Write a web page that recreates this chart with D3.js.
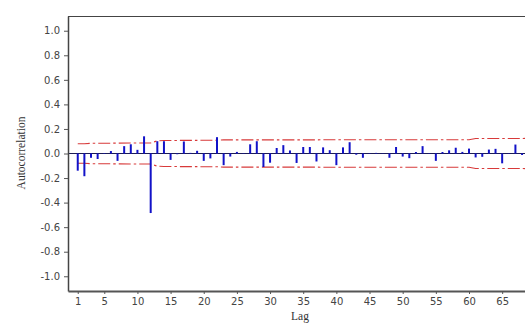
<!DOCTYPE html>
<html>
<head>
<meta charset="utf-8">
<script src="https://cdn.jsdelivr.net/npm/d3@7"></script>
<style>
  body { margin: 0; background: #fff; }
  .tick text { font-family: "DejaVu Sans", Verdana, sans-serif; font-size: 10px; fill: #444; }
  .axis-title { font-family: "Liberation Serif", "Times New Roman", serif; font-size: 11.5px; fill: #333; }
</style>
</head>
<body>
<div id="acf-chart"></div>
<script>
// lags 1..68 and the autocorrelation
const lags = d3.range(1, 69);
const acf = [
  -0.14, -0.185, -0.035, -0.045, 0.004, 0.02, -0.06, 0.06, 0.075, 0.03,
  0.14, -0.485, 0.10, 0.10, -0.052, -0.006, 0.098, 0.005, 0.022, -0.06,
  -0.04, 0.133, -0.095, -0.025, 0.013, 0.003, 0.075, 0.10, -0.11, -0.075,
  0.045, 0.068, 0.025, -0.077, 0.053, 0.053, -0.065, 0.05, 0.027, -0.095,
  0.05, 0.092, -0.01, -0.035, 0.003, 0.005, 0.002, -0.035, 0.053, -0.025,
  -0.038, 0.012, 0.06, 0.003, -0.06, 0.012, 0.026, 0.047, 0.013, 0.04,
  -0.032, -0.027, 0.032, 0.038, -0.08, 0.003, 0.073, -0.012
];

// confidence band knots (lag, half-width)
const bandLags = [1, 2, 3, 12, 13, 14, 22, 23, 60, 61, 70];
const bandValues = [0.079, 0.080, 0.083, 0.086, 0.103, 0.106, 0.108, 0.111, 0.112, 0.122, 0.123];

const xTicks = [1, 5, 10, 15, 20, 25, 30, 35, 40, 45, 50, 55, 60, 65];
const yTicks = [1.0, 0.8, 0.6, 0.4, 0.2, 0.0, -0.2, -0.4, -0.6, -0.8, -1.0];
const yTickLabels = ['1.0', '0.8', '0.6', '0.4', '0.2', '0.0', '-0.2', '-0.4', '-0.6', '-0.8', '-1.0'];

const width = 525;
const height = 323;
const plot = { left: 68, right: 532, top: 16, bottom: 291 };

const svg = d3
  .select('#acf-chart')
  .append('svg')
  .attr('width', width)
  .attr('height', height);

const xScale = d3.scaleLinear().domain([-0.47, 69.5]).range([plot.left, plot.right]);
const yScale = d3.scaleLinear().domain([-1.12, 1.12]).range([plot.bottom, plot.top]);

// top frame
svg.append('line')
  .attr('x1', plot.left).attr('x2', plot.right)
  .attr('y1', plot.top + 0.5).attr('y2', plot.top + 0.5)
  .attr('stroke', '#444').attr('stroke-width', 1);

// confidence bands
const bandPoints = bandLags.map((l, i) => ({ lag: l, v: bandValues[i] }));
const bandLine = (sign) => d3.line()
  .x((d) => xScale(d.lag))
  .y((d) => yScale(sign * d.v));

[1, -1].forEach((sign) => {
  svg.append('path')
    .datum(bandPoints)
    .attr('fill', 'none')
    .attr('stroke', '#d83a3a')
    .attr('stroke-width', 1.1)
    .attr('stroke-dasharray', '12,3,2.5,3')
    .attr('d', bandLine(sign));
});

// zero line
svg.append('line')
  .attr('x1', plot.left).attr('x2', plot.right)
  .attr('y1', yScale(0)).attr('y2', yScale(0))
  .attr('stroke', '#1c1c55').attr('stroke-width', 1);

// acf spikes
svg.selectAll('.spike')
  .data(lags)
  .enter()
  .append('line')
  .attr('class', 'spike')
  .attr('x1', (d) => xScale(d))
  .attr('x2', (d) => xScale(d))
  .attr('y1', yScale(0))
  .attr('y2', (d, i) => yScale(acf[i]))
  .attr('stroke', '#1212c8')
  .attr('stroke-width', 2);

// axes
const yAxis = svg.append('g')
  .attr('transform', `translate(${plot.left},0)`)
  .call(d3.axisLeft(yScale)
    .tickValues(yTicks)
    .tickFormat((d, i) => yTickLabels[i])
    .tickSize(4)
    .tickPadding(4)
    .tickSizeOuter(0));
yAxis.select('.domain').attr('stroke', '#444').attr('stroke-width', 1.5);
yAxis.selectAll('.tick line').attr('stroke', '#555');

const xAxis = svg.append('g')
  .attr('transform', `translate(0,${plot.bottom})`)
  .call(d3.axisBottom(xScale)
    .tickValues(xTicks)
    .tickSize(3)
    .tickPadding(4)
    .tickSizeOuter(0));
xAxis.select('.domain').attr('stroke', '#555').attr('stroke-width', 2);
xAxis.selectAll('.tick line').attr('stroke', '#555');

// titles
svg.append('text')
  .attr('class', 'axis-title')
  .attr('x', 300)
  .attr('y', 320)
  .attr('text-anchor', 'middle')
  .text('Lag');

svg.append('text')
  .attr('class', 'axis-title')
  .attr('transform', 'translate(25,153) rotate(-90)')
  .attr('text-anchor', 'middle')
  .text('Autocorrelation');
</script>
</body>
</html>
